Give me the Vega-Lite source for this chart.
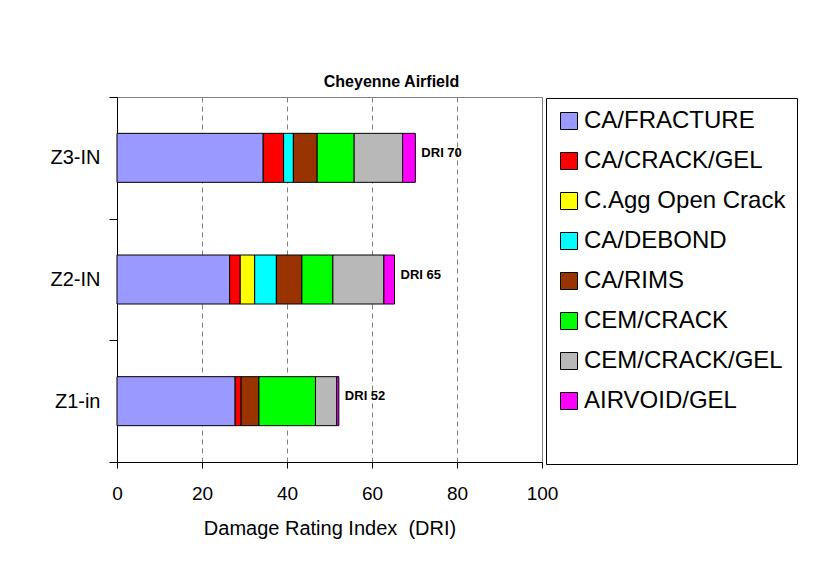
{
  "$schema": "https://vega.github.io/schema/vega-lite/v6.json",
  "autosize": "none",
  "width": 425,
  "height": 365,
  "padding": {"left": 117, "top": 97, "right": 295, "bottom": 111},
  "background": "white",
  "config": {
    "font": "Liberation Sans",
    "view": {"stroke": "#808080", "strokeWidth": 1}
  },
  "title": {
    "text": "Cheyenne Airfield",
    "font": "Liberation Sans",
    "fontSize": 16,
    "fontWeight": "bold",
    "color": "black",
    "anchor": "middle",
    "dx": 62,
    "offset": -3
  },
  "datasets": {
    "segments": [
      {"zone": "Z3-IN", "type": "CA/FRACTURE", "ord": 1, "value": 34.4},
      {"zone": "Z3-IN", "type": "CA/CRACK/GEL", "ord": 2, "value": 4.8},
      {"zone": "Z3-IN", "type": "CA/DEBOND", "ord": 4, "value": 2.3},
      {"zone": "Z3-IN", "type": "CA/RIMS", "ord": 5, "value": 5.6},
      {"zone": "Z3-IN", "type": "CEM/CRACK", "ord": 6, "value": 8.7},
      {"zone": "Z3-IN", "type": "CEM/CRACK/GEL", "ord": 7, "value": 11.4},
      {"zone": "Z3-IN", "type": "AIRVOID/GEL", "ord": 8, "value": 3.0},
      {"zone": "Z2-IN", "type": "CA/FRACTURE", "ord": 1, "value": 26.5},
      {"zone": "Z2-IN", "type": "CA/CRACK/GEL", "ord": 2, "value": 2.5},
      {"zone": "Z2-IN", "type": "C.Agg Open Crack", "ord": 3, "value": 3.4},
      {"zone": "Z2-IN", "type": "CA/DEBOND", "ord": 4, "value": 5.1},
      {"zone": "Z2-IN", "type": "CA/RIMS", "ord": 5, "value": 6.0},
      {"zone": "Z2-IN", "type": "CEM/CRACK", "ord": 6, "value": 7.3},
      {"zone": "Z2-IN", "type": "CEM/CRACK/GEL", "ord": 7, "value": 12.0},
      {"zone": "Z2-IN", "type": "AIRVOID/GEL", "ord": 8, "value": 2.5},
      {"zone": "Z1-in", "type": "CA/FRACTURE", "ord": 1, "value": 27.8},
      {"zone": "Z1-in", "type": "CA/CRACK/GEL", "ord": 2, "value": 1.4},
      {"zone": "Z1-in", "type": "CA/RIMS", "ord": 5, "value": 4.2},
      {"zone": "Z1-in", "type": "CEM/CRACK", "ord": 6, "value": 13.3},
      {"zone": "Z1-in", "type": "CEM/CRACK/GEL", "ord": 7, "value": 5.0},
      {"zone": "Z1-in", "type": "AIRVOID/GEL", "ord": 8, "value": 0.5}
    ],
    "totals": [
      {"zone": "Z3-IN", "total": 70.2, "label": "DRI 70"},
      {"zone": "Z2-IN", "total": 65.3, "label": "DRI 65"},
      {"zone": "Z1-in", "total": 52.2, "label": "DRI 52"}
    ]
  },
  "encoding": {
    "y": {
      "field": "zone",
      "type": "nominal",
      "sort": ["Z3-IN", "Z2-IN", "Z1-in"],
      "scale": {"domain": ["Z3-IN", "Z2-IN", "Z1-in"], "paddingInner": 0, "paddingOuter": 0},
      "axis": {
        "title": null,
        "domainColor": "black",
        "tickColor": "black",
        "tickSize": 8,
        "tickBand": "extent",
        "labelFontSize": 20,
        "labelColor": "black",
        "labelPadding": 9,
        "labelFont": "Liberation Sans"
      }
    }
  },
  "layer": [
    {
      "data": {"name": "segments"},
      "mark": {"type": "bar", "size": 49, "stroke": "black", "strokeWidth": 1},
      "encoding": {
        "x": {
          "field": "value",
          "type": "quantitative",
          "stack": "zero",
          "scale": {"domain": [0, 100], "nice": false},
          "axis": {
            "title": "Damage Rating Index \u00a0(DRI)",
            "titleFontSize": 20,
            "titleFontWeight": "normal",
            "titleColor": "black",
            "titlePadding": 15,
            "values": [0, 20, 40, 60, 80, 100],
            "labelFontSize": 19,
            "labelColor": "black",
            "labelPadding": 16,
            "tickColor": "black",
            "tickSize": 6,
            "domainColor": "black",
            "grid": true,
            "gridColor": "#808080",
            "gridDash": [5, 4],
            "labelFlush": false
          }
        },
        "color": {
          "field": "type",
          "type": "nominal",
          "scale": {
            "domain": ["CA/FRACTURE", "CA/CRACK/GEL", "C.Agg Open Crack", "CA/DEBOND", "CA/RIMS", "CEM/CRACK", "CEM/CRACK/GEL", "AIRVOID/GEL"],
            "range": ["#9999FF", "#FF0000", "#FFFF00", "#00FFFF", "#993300", "#00FF00", "#B8B8B8", "#FF00FF"]
          },
          "legend": {
            "orient": "none",
            "legendX": 429,
            "legendY": 1,
            "title": " ",
            "titleOrient": "bottom",
            "titleFontSize": 28,
            "titlePadding": 12,
            "symbolType": "square",
            "symbolSize": 289,
            "symbolStrokeColor": "black",
            "symbolStrokeWidth": 1,
            "labelFontSize": 24,
            "labelColor": "black",
            "labelOffset": 3,
            "labelLimit": 400,
            "rowPadding": 16,
            "padding": 11,
            "strokeColor": "black",
            "fillColor": "white"
          }
        },
        "order": {"field": "ord", "type": "quantitative"}
      }
    },
    {
      "data": {"name": "totals"},
      "mark": {"type": "text", "align": "left", "baseline": "middle", "dx": 6, "dy": -5, "fontSize": 13, "fontWeight": "bold", "color": "black"},
      "encoding": {
        "x": {"field": "total", "type": "quantitative"},
        "text": {"field": "label", "type": "nominal"}
      }
    }
  ]
}
